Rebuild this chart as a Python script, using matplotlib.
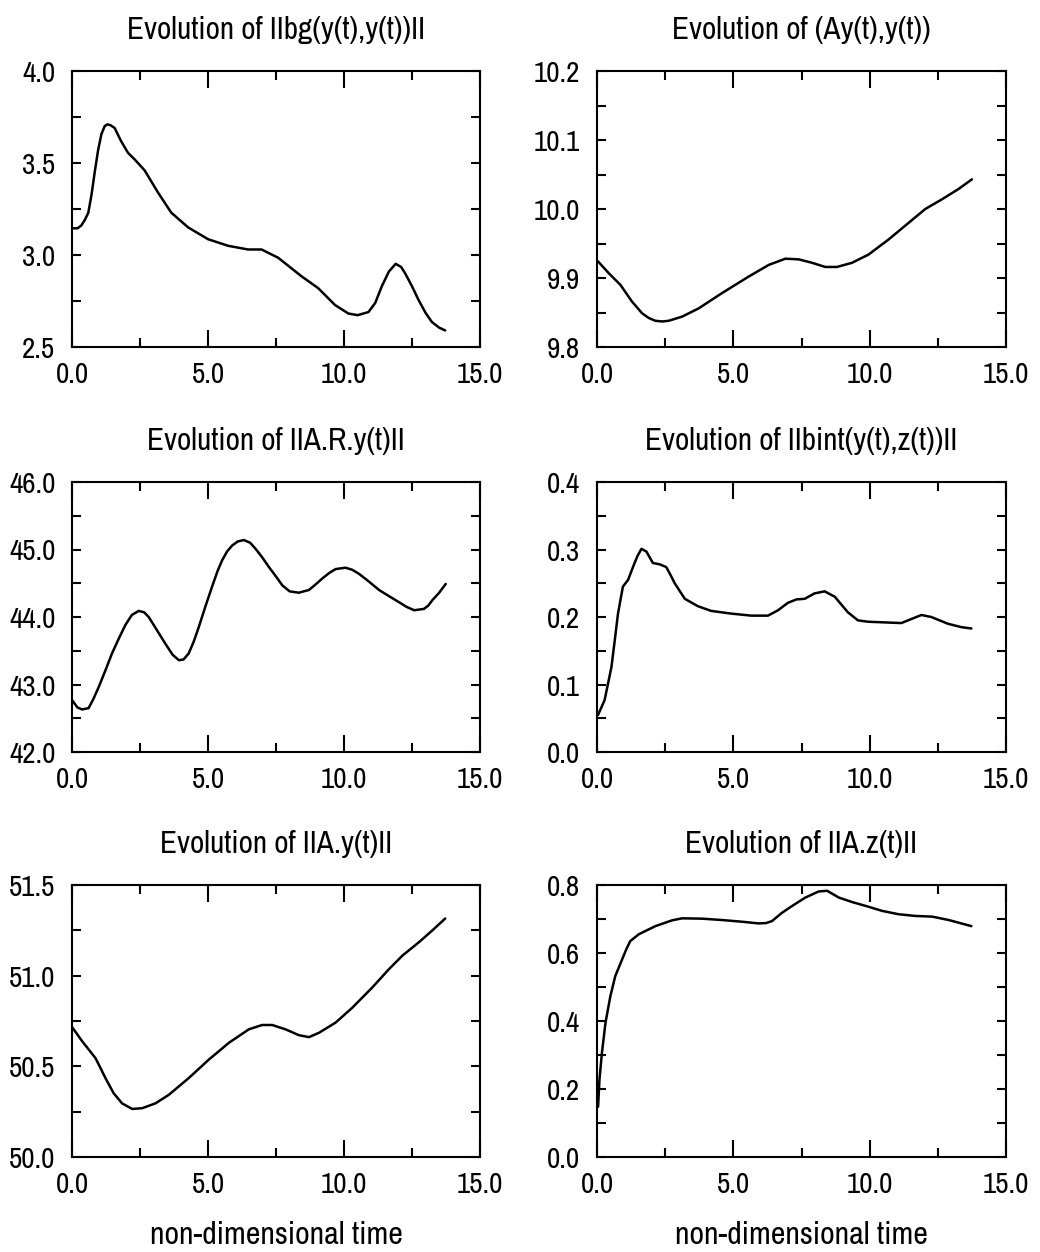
import matplotlib
matplotlib.use("Agg")
import matplotlib.pyplot as plt
from matplotlib.ticker import FixedLocator

# ---------------- data ----------------
titles = ["Evolution of IIbg(y(t),y(t))II", "Evolution of (Ay(t),y(t))",
          "Evolution of IIA.R.y(t)II", "Evolution of IIbint(y(t),z(t))II",
          "Evolution of IIA.y(t)II", "Evolution of IIA.z(t)II"]
xlabel_text = "non-dimensional time"

x_major = [0.0, 5.0, 10.0, 15.0]
x_minor = [2.5, 7.5, 12.5]
x_ticklabels = ["0.0", "5.0", "10.0", "15.0"]

t1 = [0.04, 0.2, 0.34, 0.47, 0.6, 0.72, 0.84, 0.96, 1.08, 1.2, 1.3, 1.42, 1.57, 1.8, 2.06, 2.3, 2.67,
      3.16, 3.65, 4.27, 5.0, 5.74, 6.47, 6.97, 7.58, 8.44, 9.05, 9.67, 10.16, 10.5, 10.9, 11.15,
      11.39, 11.65, 11.9, 12.1, 12.25, 12.5, 12.74, 13.0, 13.23, 13.5, 13.72]
v1 = [3.145, 3.145, 3.16, 3.19, 3.23, 3.33, 3.455, 3.57, 3.656, 3.70, 3.71, 3.705, 3.69, 3.62, 3.555, 3.52,
      3.46, 3.34, 3.23, 3.15, 3.086, 3.05, 3.03, 3.03, 2.985, 2.884, 2.82, 2.728, 2.682, 2.673, 2.69, 2.74,
      2.83, 2.91, 2.952, 2.935, 2.90, 2.83, 2.756, 2.685, 2.636, 2.605, 2.59]

t2 = [0.04, 0.43, 0.86, 1.28, 1.65, 1.9, 2.14, 2.4, 2.63, 3.12, 3.73, 4.58, 5.56, 6.3, 6.91, 7.4, 7.89,
      8.37, 8.8, 9.35, 9.96, 10.7, 11.43, 12.04, 12.65, 13.26, 13.75]
v2 = [9.924, 9.907, 9.890, 9.866, 9.849, 9.842, 9.838, 9.837, 9.838, 9.844, 9.856, 9.878, 9.902, 9.919,
      9.928, 9.927, 9.922, 9.916, 9.916, 9.922, 9.934, 9.956, 9.980, 10.000, 10.014, 10.029, 10.043]

t3 = [0.02, 0.2, 0.37, 0.61, 0.78, 0.98, 1.22, 1.47, 1.72, 1.96, 2.2, 2.45, 2.65, 2.82, 3.1, 3.44, 3.7,
      3.93, 4.1, 4.29, 4.47, 4.66, 4.9, 5.15, 5.35, 5.52, 5.7, 5.89, 6.1, 6.32, 6.55, 6.75, 7.0, 7.24,
      7.5, 7.73, 8.0, 8.34, 8.71, 8.95, 9.2, 9.45, 9.69, 10.06, 10.3, 10.55, 10.9, 11.29, 11.65, 12.02,
      12.3, 12.58, 12.94, 13.1, 13.25, 13.5, 13.74]
v3 = [42.76, 42.66, 42.63, 42.65, 42.78, 42.96, 43.2, 43.46, 43.68, 43.88, 44.03, 44.09, 44.07, 44.0, 43.82,
      43.60, 43.44, 43.36, 43.37, 43.46, 43.63, 43.85, 44.15, 44.45, 44.68, 44.84, 44.97, 45.06, 45.12, 45.14,
      45.10, 45.01, 44.88, 44.74, 44.6, 44.47, 44.38, 44.36, 44.40, 44.48, 44.57, 44.65, 44.71, 44.73, 44.70,
      44.64, 44.53, 44.40, 44.31, 44.22, 44.15, 44.10, 44.12, 44.17, 44.25, 44.36, 44.49]

t4 = [0.04, 0.28, 0.53, 0.65, 0.77, 0.95, 1.14, 1.32, 1.48, 1.63, 1.81, 2.05, 2.3, 2.54, 2.7, 2.85, 3.22,
      3.7, 4.19, 4.93, 5.66, 6.27, 6.64, 7.0, 7.31, 7.62, 7.98, 8.35, 8.72, 8.95, 9.2, 9.57, 9.94, 10.55,
      11.16, 11.53, 11.9, 12.26, 12.87, 13.36, 13.73]
v4 = [0.055, 0.077, 0.126, 0.165, 0.205, 0.245, 0.255, 0.274, 0.29, 0.301, 0.297, 0.280, 0.278, 0.274,
      0.262, 0.250, 0.227, 0.216, 0.209, 0.205, 0.202, 0.202, 0.210, 0.221, 0.226, 0.227, 0.235, 0.238,
      0.230, 0.219, 0.207, 0.195, 0.193, 0.192, 0.191, 0.197, 0.203, 0.200, 0.190, 0.185, 0.183]

t5 = [0.02, 0.37, 0.86, 1.05, 1.23, 1.53, 1.84, 2.21, 2.58, 3.07, 3.56, 4.29, 5.03, 5.77, 6.5, 6.99,
      7.36, 7.85, 8.34, 8.71, 9.08, 9.69, 10.31, 11.04, 11.66, 12.15, 12.76, 13.25, 13.72]
v5 = [50.713, 50.639, 50.546, 50.49, 50.435, 50.352, 50.296, 50.265, 50.269, 50.296, 50.343, 50.435,
      50.537, 50.63, 50.704, 50.728, 50.728, 50.704, 50.672, 50.661, 50.685, 50.741, 50.824, 50.935,
      51.037, 51.111, 51.185, 51.25, 51.315]

t6 = [0.04, 0.09, 0.18, 0.31, 0.49, 0.67, 0.92, 1.08, 1.22, 1.53, 2.14, 2.75, 3.12, 3.85, 4.58, 5.32,
      5.93, 6.2, 6.42, 6.78, 7.15, 7.64, 8.13, 8.44, 8.87, 9.35, 9.96, 10.45, 11.06, 11.67, 12.29, 12.9, 13.73]
v6 = [0.148, 0.227, 0.306, 0.394, 0.473, 0.532, 0.581, 0.612, 0.635, 0.655, 0.679, 0.696, 0.702, 0.701,
      0.697, 0.692, 0.687, 0.688, 0.694, 0.718, 0.738, 0.763, 0.781, 0.783, 0.763, 0.750, 0.736, 0.724,
      0.714, 0.709, 0.707, 0.697, 0.679]

y_major = [[2.5, 3.0, 3.5, 4.0], [9.8, 9.9, 10.0, 10.1, 10.2], [42.0, 43.0, 44.0, 45.0, 46.0],
           [0.0, 0.1, 0.2, 0.3, 0.4], [50.0, 50.5, 51.0, 51.5], [0.0, 0.2, 0.4, 0.6, 0.8]]
y_minor = [[2.75, 3.25, 3.75], [9.85, 9.95, 10.05, 10.15], [42.5, 43.5, 44.5, 45.5],
           [0.05, 0.15, 0.25, 0.35], [50.25, 50.75, 51.25], [0.1, 0.3, 0.5, 0.7]]
y_ticklabels = [["2.5", "3.0", "3.5", "4.0"], ["9.8", "9.9", "10.0", "10.1", "10.2"],
                ["42.0", "43.0", "44.0", "45.0", "46.0"], ["0.0", "0.1", "0.2", "0.3", "0.4"],
                ["50.0", "50.5", "51.0", "51.5"], ["0.0", "0.2", "0.4", "0.6", "0.8"]]

series_t = [t1, t2, t3, t4, t5, t6]
series_v = [v1, v2, v3, v4, v5, v6]

# ---------------- layout ----------------
W, H = 1040, 1252
fig = plt.figure(figsize=(W / 100, H / 100), dpi=100)
fig.patch.set_facecolor("white")

cols = [(72, 480), (597, 1006)]
rows = [(71, 347), (482, 752), (885, 1157)]

narrow = ["Archivo Narrow", "Liberation Sans", "DejaVu Sans"]

for i in range(6):
    r, c = divmod(i, 2)
    x0, x1 = cols[c]
    y0, y1 = rows[r]
    ax = fig.add_axes([x0 / W, 1 - y1 / H, (x1 - x0) / W, (y1 - y0) / H])
    ax.plot(series_t[i], series_v[i], color="black", lw=1.8,
            solid_joinstyle="round", solid_capstyle="round")
    ax.set_xlim(x_major[0], x_major[-1])
    ax.set_ylim(y_major[i][0], y_major[i][-1])
    ax.xaxis.set_major_locator(FixedLocator(x_major))
    ax.xaxis.set_minor_locator(FixedLocator(x_minor))
    ax.set_xticklabels(x_ticklabels)
    ax.yaxis.set_major_locator(FixedLocator(y_major[i]))
    ax.yaxis.set_minor_locator(FixedLocator(y_minor[i]))
    ax.set_yticklabels(y_ticklabels[i])
    for s in ax.spines.values():
        s.set_linewidth(1.5)
    ax.tick_params(axis="x", which="major", direction="in", top=True, bottom=True,
                   length=12, width=1.5, pad=10, labelsize=21)
    ax.tick_params(axis="x", which="minor", direction="in", top=True, bottom=True,
                   length=6.5, width=1.5)
    ax.tick_params(axis="y", which="both", direction="in", left=True, right=True,
                   length=6.5, width=1.5, pad=12, labelsize=21)
    for lab in ax.get_xticklabels() + ax.get_yticklabels():
        lab.set_family(narrow)
    ax.set_title(titles[i], family=narrow, fontsize=22.5, pad=23)
    if r == 2:
        ax.set_xlabel(xlabel_text, family=narrow, fontsize=23, labelpad=16.5)

fig.savefig("out.png", dpi=100, facecolor="white")
